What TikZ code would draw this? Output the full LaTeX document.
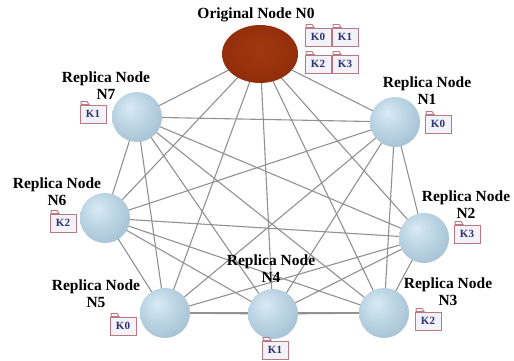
\documentclass[tikz,border=0pt]{standalone}
\usepackage{fontspec}
\setmainfont{Liberation Serif}
\pgfdeclarelayer{bg}
\pgfdeclarelayer{links}
\pgfsetlayers{bg,links,main}
\definecolor{linkgray}{RGB}{145,145,145}
\definecolor{tagline}{RGB}{185,120,130}
\definecolor{tagtext}{RGB}{45,50,115}
\definecolor{tagfill}{RGB}{242,242,248}
\pgfdeclareradialshading{replicaball}{\pgfpoint{-8bp}{10bp}}{rgb(0bp)=(0.85,0.92,0.96); rgb(18bp)=(0.73,0.83,0.89); rgb(40bp)=(0.61,0.72,0.80); rgb(62bp)=(0.50,0.62,0.72)}
\pgfdeclareradialshading{originball}{\pgfpoint{0bp}{4bp}}{rgb(0bp)=(0.64,0.22,0.06); rgb(30bp)=(0.56,0.17,0.04); rgb(48bp)=(0.44,0.11,0.02); rgb(60bp)=(0.40,0.10,0.02)}
\tikzset{
  replica/.style={circle, minimum size=50pt, inner sep=0pt, shading=replicaball},
  origin/.style={ellipse, minimum width=76pt, minimum height=58pt, inner sep=0pt, shading=originball},
  link/.style={draw=linkgray, line width=1.1pt},
  caption/.style={font=\fontsize{15.5}{17}\selectfont\bfseries, align=center, inner sep=0pt},
  keybox/.style={draw=tagline, fill=tagfill, line width=0.9pt, minimum width=26pt, minimum height=18pt,
    inner sep=0pt, font=\fontsize{11}{11}\selectfont\bfseries, text=tagtext},
  keytab/.style={draw=tagline, fill=white, line width=0.9pt}
}
\usetikzlibrary{shapes.geometric}
% key tag: a small folder-like box with a tab on its top-left corner
\newcommand\keytag[3]{%
  \node[keybox] (#1) at (#2) {#3};
  \filldraw[keytab] ([xshift=1.5pt]#1.north west) -- ++(0,-3) -- ++(6,0) -- ++(2,3) -- cycle;}
\begin{document}
\begin{tikzpicture}[x=1pt,y=-1pt]
  \begin{pgfonlayer}{bg}
    \fill[white] (0,0) rectangle (514,361);
  \end{pgfonlayer}
  \useasboundingbox (0,0) rectangle (514,361);

  % nodes
  \node[origin]  (n0) at (260,54) {};
  \node[replica] (n1) at (395,122) {};
  \node[replica] (n2) at (424,238) {};
  \node[replica] (n3) at (384,313) {};
  \node[replica] (n4) at (273,314) {};
  \node[replica] (n5) at (165,313) {};
  \node[replica] (n6) at (105,218) {};
  \node[replica] (n7) at (137,117) {};

  % every node is linked with every other node
  \begin{pgfonlayer}{links}
    \foreach \a/\i in {n0/0,n1/1,n2/2,n3/3,n4/4,n5/5,n6/6,n7/7}{
      \foreach \b/\j in {n0/0,n1/1,n2/2,n3/3,n4/4,n5/5,n6/6,n7/7}{
        \ifnum\i<\j \draw[link] (\a.center) -- (\b.center); \fi
      }
    }
  \end{pgfonlayer}

  % captions
  \node[caption] (c0) at (256,15)  {Original Node N0};
  \node[caption] (c1) at (427,91)  {Replica Node\\N1};
  \node[caption] (c2) at (466,205) {Replica Node\\N2};
  \node[caption] (c3) at (448,292) {Replica Node\\N3};
  \node[caption] (c4) at (271,269) {Replica Node\\N4};
  \node[caption] (c5) at (96,294)  {Replica Node\\N5};
  \node[caption] (c6) at (57,192)  {Replica Node\\N6};
  \node[caption] (c7) at (106,86)  {Replica Node\\N7};

  % key tags
  \keytag{k00}{318,37}{K0}
  \keytag{k01}{345,37}{K1}
  \keytag{k02}{318,64}{K2}
  \keytag{k03}{345,64}{K3}
  \keytag{k1}{438,124}{K0}
  \keytag{k2}{467,234}{K3}
  \keytag{k3}{428,321}{K2}
  \keytag{k4}{275,350}{K1}
  \keytag{k5}{123,326}{K0}
  \keytag{k6}{63,223}{K2}
  \keytag{k7}{93,114}{K1}
\end{tikzpicture}
\end{document}
